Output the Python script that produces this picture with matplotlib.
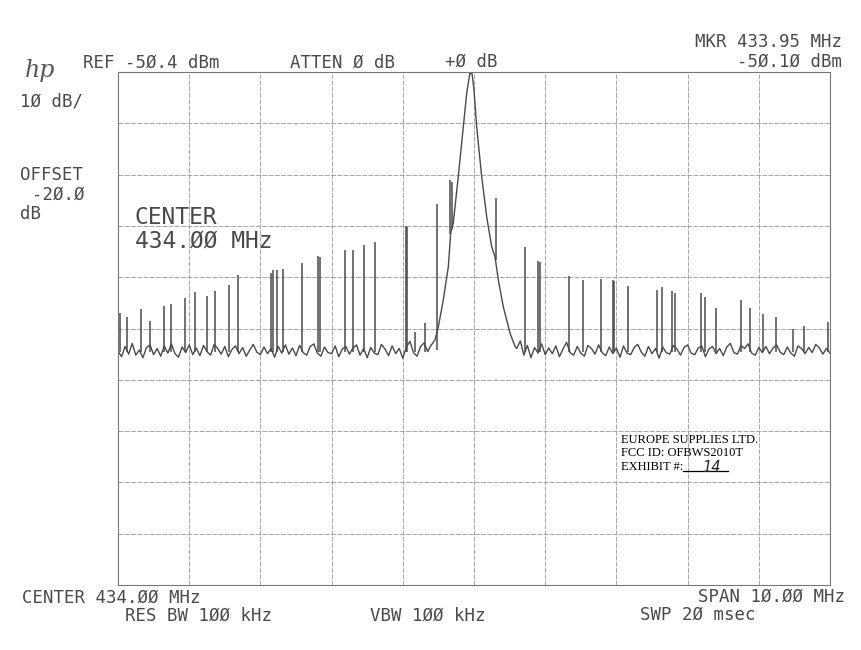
import numpy as np
import matplotlib
matplotlib.use('Agg')
import matplotlib.pyplot as plt

# spectrum analyser screen: 429..439 MHz, ref -50.4 dBm, 10 dB/div
f_start, f_stop = 429.0, 439.0
ref_level = -50.4
db_per_div = 10

# noise floor left and right of the carrier (dBm), 0.05 MHz steps
floor_left_f = np.arange(429.00, 433.351, 0.05)
floor_left = [-104.8,-105.9,-103.9,-105.4,-103.3,-105.6,-104.6,-106.1,-104.1,-103.6,
              -105.5,-104.3,-105.8,-103.8,-105.2,-103.4,-105.3,-106.0,-104.0,-105.1,
              -103.6,-105.5,-104.2,-105.7,-103.7,-104.9,-105.6,-103.5,-104.3,-105.4,
              -103.9,-105.9,-104.5,-103.8,-105.3,-104.1,-105.8,-104.6,-103.5,-105.0,
              -105.5,-104.0,-105.3,-104.3,-106.0,-103.9,-105.2,-103.6,-105.4,-104.2,
              -105.7,-103.7,-105.1,-105.6,-103.9,-103.4,-105.2,-105.8,-104.0,-105.1,
              -105.3,-103.8,-105.9,-104.4,-103.9,-105.4,-104.2,-103.6,-105.6,-104.3,
              -106.1,-104.1,-105.2,-105.5,-103.5,-104.4,-105.7,-103.8,-105.3,-104.3,
              -106.2,-104.0,-102.9,-105.1,-105.8,-103.9,-103.2,-104.9]
floor_right_f = np.arange(434.60, 439.001, 0.05)
floor_right = [-104.3,-102.8,-105.6,-103.7,-106.1,-104.1,-105.2,-103.4,-105.5,-104.2,
               -105.3,-103.8,-105.9,-104.4,-103.1,-105.1,-105.6,-103.9,-105.2,-105.8,
               -103.7,-104.3,-105.4,-103.6,-105.1,-105.7,-104.0,-105.3,-104.2,-106.0,
               -103.8,-105.2,-105.5,-104.1,-103.5,-105.0,-105.8,-103.9,-105.3,-104.3,
               -106.2,-104.0,-105.1,-105.4,-103.7,-104.4,-105.6,-104.1,-103.6,-105.2,
               -105.5,-104.2,-103.8,-105.9,-104.4,-103.9,-105.3,-104.3,-105.7,-104.0,
               -103.3,-105.1,-105.4,-103.7,-104.3,-103.4,-105.2,-105.6,-104.1,-105.1,
               -103.9,-105.3,-104.2,-103.6,-105.0,-105.5,-104.0,-105.2,-105.8,-103.8,
               -104.3,-105.3,-104.1,-105.1,-103.5,-104.2,-105.4,-104.3,-105.2]

# carrier skirt
peak_f = [433.382, 433.452, 433.499, 433.569, 433.639, 433.673, 433.709, 433.779,
          433.850, 433.897, 433.934, 433.954, 433.972, 434.000, 434.038, 434.108,
          434.178, 434.249, 434.295, 434.341, 434.412, 434.506, 434.576]
peak_db = [-104.0, -102.6, -100.1, -94.8, -88.4, -81.8, -79.8, -70.8,
           -61.1, -54.6, -51.3, -50.3, -50.7, -53.9, -61.1, -70.8,
           -78.6, -84.5, -86.4, -90.9, -96.2, -101.3, -103.9]

# spurious lines: frequency, top level, base level
spur_f = [429.028, 429.122, 429.323, 429.449, 429.646, 429.744, 429.941, 430.081,
          430.250, 430.362, 430.559, 430.685, 431.149, 431.177, 431.233, 431.317,
          431.584, 431.812, 431.835, 432.188, 432.301, 432.455, 432.610, 433.038,
          433.052, 433.171, 433.312, 433.480, 433.660, 433.690, 434.309,
          434.716, 434.899, 434.927, 435.334, 435.531, 435.784, 435.952, 435.966,
          436.163, 436.570, 436.640, 436.781, 436.823, 437.188, 437.244, 437.399,
          437.750, 437.876, 438.059, 438.242, 438.480, 438.635, 438.972]
spur_top = [-97.4, -98.2, -96.6, -98.9, -96.0, -95.6, -94.5, -93.3,
            -94.1, -93.1, -91.9, -90.0, -89.6, -89.0, -89.0, -88.8,
            -87.6, -86.3, -86.5, -85.1, -85.1, -84.1, -83.5, -80.4,
            -80.6, -101.1, -99.3, -76.1, -71.4, -71.8, -75.0,
            -84.5, -87.2, -87.4, -90.2, -91.0, -90.7, -91.0, -91.2,
            -92.1, -92.9, -92.3, -93.1, -93.5, -93.5, -94.3, -96.4,
            -94.8, -96.4, -97.6, -98.2, -100.5, -99.9, -99.1]
spur_base = [-105.0] * 27 + [-104.5, -82.0, -81.0, -87.0] + [-105.0] * 23

fig = plt.figure(figsize=(8.61, 6.5), dpi=100)
fig.patch.set_facecolor('white')
ax = fig.add_axes([118/861, 1-585/650, (830-118)/861, (585-72)/650])

ink = '#4a4a4a'
grid = '#9a9a9a'

f_all = np.concatenate([floor_left_f, peak_f, floor_right_f])
db_all = np.concatenate([floor_left, peak_db, floor_right])
ax.plot(f_all, db_all, color=ink, lw=1.0)
ax.vlines(spur_f, spur_base, spur_top, color=ink, lw=1.1)
ax.plot([433.95], [-50.1], marker='D', ms=3.5, mfc='none', mec=ink, mew=0.8)

ax.set_xlim(f_start, f_stop)
ax.set_ylim(ref_level - 10*db_per_div, ref_level)
ax.set_xticks(np.linspace(f_start, f_stop, 11))
ax.set_yticks(np.linspace(ref_level - 10*db_per_div, ref_level, 11))
ax.grid(True, color=grid, lw=0.6, ls=(0, (6, 1.5)))
ax.tick_params(length=0, labelbottom=False, labelleft=False)
for s in ax.spines.values():
    s.set_color('#777777')
    s.set_linewidth(0.8)

mono = 'DejaVu Sans Mono'
tc = '#4a4a4a'

def txt(x, y, s, size=12.5, ha='left', **kw):
    fig.text(x/861, 1-y/650, s, fontsize=size, ha=ha, va='center',
             family=kw.pop('family', mono), color=kw.pop('color', tc), **kw)

txt(25, 70, 'hp', size=17, family='DejaVu Serif', style='italic', color='#555555')
txt(83, 63, 'REF -5Ø.4 dBm')
txt(290, 63, 'ATTEN Ø dB')
txt(445, 62, '+Ø dB')
txt(842, 42, 'MKR 433.95 MHz', ha='right')
txt(842, 62, '-5Ø.1Ø dBm', ha='right')
txt(20, 102, '1Ø dB/')
txt(20, 175, 'OFFSET')
txt(32, 195, '-2Ø.Ø')
txt(20, 214, 'dB')
txt(135, 218, 'CENTER', size=16.5)
txt(135, 241, '434.ØØ MHz', size=16.5)
txt(22, 598, 'CENTER 434.ØØ MHz')
txt(125, 616, 'RES BW 1ØØ kHz')
txt(370, 616, 'VBW 1ØØ kHz')
txt(845, 597, 'SPAN 1Ø.ØØ MHz', ha='right')
txt(640, 615, 'SWP 2Ø msec')

serif = 'Liberation Serif'
txt(621, 440, 'EUROPE SUPPLIES LTD.', size=9, family=serif, color='black')
txt(621, 453, 'FCC ID: OFBWS2010T', size=9, family=serif, color='black')
txt(621, 467, 'EXHIBIT #:', size=9, family=serif, color='black')
fig.add_artist(plt.Line2D([683/861, 728/861], [1-471/650, 1-471/650], color='black', lw=0.9))
txt(702, 468, '14', size=10.5, family='DejaVu Sans', style='italic', color='#222222')

fig.savefig('out.png', dpi=100)
